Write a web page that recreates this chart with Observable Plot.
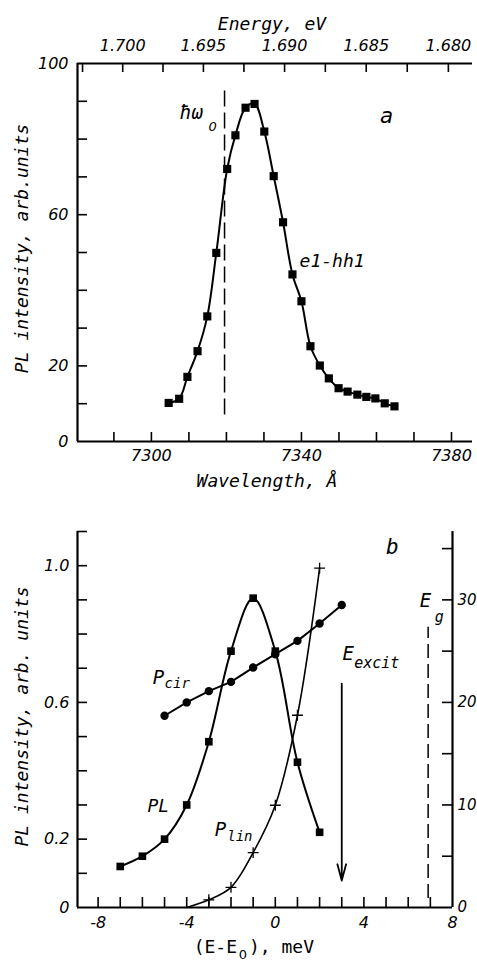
<!DOCTYPE html>
<html><head><meta charset="utf-8">
<script src="https://cdn.jsdelivr.net/npm/d3@7"></script>
<script src="https://cdn.jsdelivr.net/npm/@observablehq/plot@0.6"></script>
<style>
body{margin:0;background:#fff;}
#chart svg{display:block;}
</style></head><body><div id="chart"></div>
<script>
// ---------- Panel a data ----------
const wavelength = [7304.6,7307.4,7309.6,7312.3,7314.9,7317.3,7320.2,7322.4,7325.1,7327.5,7330.1,7332.6,7335.1,7337.6,7340.0,7342.4,7344.9,7347.3,7349.9,7352.3,7354.9,7357.3,7359.7,7362.2,7364.8];
const intensityA = [10.2,11.3,17.1,23.9,33.1,49.9,72.1,81.0,88.3,89.3,82.0,70.2,58.0,44.2,37.1,25.2,20.1,16.7,14.1,13.2,12.4,11.8,11.4,10.1,9.3];
const wavelengthTicks = [7290,7300,7310,7320,7330,7340,7350,7360,7370,7380];
const wavelengthLabels = [7300,7340,7380];
const intensityTicksA = [10,20,30,40,50,60,70,80,90];
const intensityLabelsA = [0,20,60,100];
const energyTicks = [1.7025,1.700,1.6975,1.695,1.6925,1.690,1.6875,1.685,1.6825,1.680];
const energyLabels = [1.700,1.695,1.690,1.685,1.680];
const hbarOmega0 = 7319.5;          // dashed line position, Å
const hbarOmegaSpan = [7, 94];

// ---------- Panel b data ----------
const dE_PL = [-7,-6,-5,-4,-3,-2,-1,0,1,2];
const plB   = [0.12,0.15,0.20,0.30,0.485,0.75,0.905,0.75,0.425,0.22];
const dE_cir = [-5,-4,-3,-2,-1,0,1,2,3];
const pCir   = [18.7,20.0,21.1,22.0,23.4,24.7,26.0,27.7,29.5];   // %
const dE_lin = [-3,-2,-1,0,1,2];
const pLin   = [0.75,1.97,5.35,9.97,18.75,33.1];                // %
const linCurveStart = {dE: -4, p: 0};
const xTicksB = [-8,-7,-6,-5,-4,-3,-2,-1,0,1,2,3,4,5,6,7];
const xLabelsB = [-8,-4,0,4,8];
const yTicksB = [0.1,0.2,0.3,0.4,0.5,0.6,0.7,0.8,0.9,1.0,1.1];
const yLabelsB = [0,0.2,0.6,1.0];
const rightTicksB = [5,10,15,20,25,30,35];
const rightLabelsB = [0,10,20,30];
const excitArrow = {dE: 3, top: 0.655, bottom: 0.079};
const egLine = {dE: 6.9, y1: 0.026, y2: 0.82};

// ---------- constants ----------
const HC = 12397;           // eV·Å
const K = 100 / 3;          // % per left-axis unit
const FONT = "'DejaVu Sans Mono', 'Liberation Mono', monospace";
const NUMFONT = "'DejaVu Sans', sans-serif";

const panelA = wavelength.map((w, i) => ({w, I: intensityA[i]}));
const plData = dE_PL.map((d, i) => ({d, v: plB[i]}));
const cirData = dE_cir.map((d, i) => ({d, v: pCir[i] / K}));
const linData = dE_lin.map((d, i) => ({d, v: pLin[i] / K}));
const linCurve = [{d: linCurveStart.dE, v: linCurveStart.p / K}, ...linData];

const txt = (s, x, y, o = {}) => Plot.text([s], {x: () => x, y: () => y, text: d => d, ...o});

// Panel a geometry
const A = {w: 477, h: 505, ml: 77, mr: 5, mt: 63, mb: 64};
const AFW = A.w - A.ml - A.mr, AFH = A.h - A.mt - A.mb;
const xDomA = [7280.3, 7385.6];

const plotA = Plot.plot({
  width: A.w, height: A.h,
  marginLeft: A.ml, marginRight: A.mr, marginTop: A.mt, marginBottom: A.mb,
  x: {domain: xDomA}, y: {domain: [0, 100]},
  style: {fontFamily: FONT, fontSize: "17px", fontStyle: "italic", background: "white", overflow: "visible"},
  marks: [
    Plot.ruleX([xDomA[0]], {strokeWidth: 2.2}),
    Plot.ruleY([0], {strokeWidth: 2.2}),
    Plot.ruleY([100], {strokeWidth: 2.2}),
    Plot.tickX(wavelengthTicks, {x: d => d, insetTop: AFH - 9, strokeWidth: 1.6}),
    Plot.tickX(energyTicks, {x: e => HC / e, insetBottom: AFH - 9, strokeWidth: 1.6}),
    Plot.tickY(intensityTicksA, {y: d => d, insetRight: AFW - 10, strokeWidth: 1.6}),
    Plot.axisX({ticks: wavelengthLabels, anchor: "bottom", tickSize: 0, tickPadding: 8, tickFormat: d => String(d), label: null, fontFamily: NUMFONT, fontSize: 16}),
    Plot.axisX({ticks: energyLabels.map(e => HC / e), anchor: "top", tickSize: 0, tickPadding: 13, tickFormat: x => (HC / x).toFixed(3), label: null, fontFamily: NUMFONT, fontSize: 16}),
    Plot.axisY({ticks: intensityLabelsA, anchor: "left", tickSize: 0, tickPadding: 9, tickFormat: d => String(d), label: null, fontFamily: NUMFONT, fontSize: 16}),
    Plot.text(["Energy, eV"], {frameAnchor: "top", textAnchor: "middle", dy: -46, dx: -3, fontSize: 18}),
    Plot.text(["Wavelength, Å"], {frameAnchor: "bottom", textAnchor: "middle", dy: 45, dx: -8, fontSize: 18}),
    Plot.text(["PL intensity, arb.units"], {frameAnchor: "left", textAnchor: "middle", dx: -55, dy: -4, rotate: -90, fontSize: 18}),
    Plot.ruleX([hbarOmega0], {y1: hbarOmegaSpan[0], y2: hbarOmegaSpan[1], strokeDasharray: "16,6", strokeWidth: 1.5}),
    Plot.line(panelA, {x: "w", y: "I", curve: "catmull-rom", strokeWidth: 2}),
    Plot.dot(panelA, {x: "w", y: "I", symbol: "square", r: 4.6, fill: "black", stroke: "none"}),
    txt("ħω", 7310.7, 87.0, {fontSize: 19}),
    txt("0", 7316.3, 83.2, {fontSize: 13, fontFamily: NUMFONT}),
    txt("a", 7362.7, 86.2, {fontSize: 22}),
    txt("e1-hh1", 7339.5, 47.6, {textAnchor: "start", fontSize: 18})
  ]
});

// Panel b geometry
const B = {w: 477, h: 461, ml: 77, mr: 25, mt: 26, mb: 59};
const BFW = B.w - B.ml - B.mr, BFH = B.h - B.mt - B.mb;
const xDomB = [-8.93, 8];

const plotB = Plot.plot({
  width: B.w, height: B.h,
  marginLeft: B.ml, marginRight: B.mr, marginTop: B.mt, marginBottom: B.mb,
  x: {domain: xDomB}, y: {domain: [0, 1.1]},
  style: {fontFamily: FONT, fontSize: "17px", fontStyle: "italic", background: "white", overflow: "visible"},
  marks: [
    Plot.ruleX([xDomB[0]], {strokeWidth: 2.2}),
    Plot.ruleX([xDomB[1]], {strokeWidth: 2.2}),
    Plot.ruleY([0], {strokeWidth: 2.2}),
    Plot.tickX(xTicksB, {x: d => d, insetTop: BFH - 10, strokeWidth: 1.6}),
    Plot.tickY(yTicksB, {y: d => d, insetRight: BFW - 10, strokeWidth: 1.6}),
    Plot.tickY(rightTicksB, {y: d => d / K, insetLeft: BFW - 10, strokeWidth: 1.6}),
    Plot.axisX({ticks: xLabelsB, anchor: "bottom", tickSize: 0, tickPadding: 9, tickFormat: d => String(d), label: null, fontFamily: NUMFONT, fontSize: 16}),
    Plot.axisY({ticks: yLabelsB, anchor: "left", tickSize: 0, tickPadding: 8, tickFormat: d => d === 0 ? "0" : d.toFixed(1), label: null, fontFamily: NUMFONT, fontSize: 16}),
    Plot.axisY({ticks: rightLabelsB.map(p => p / K), anchor: "right", tickSize: 0, tickPadding: 5, tickFormat: y => String(Math.round(y * K)), label: null, fontFamily: NUMFONT, fontSize: 15}),
    Plot.text(["(E-E"], {frameAnchor: "bottom", dy: 45, dx: -28, textAnchor: "end", fontSize: 18, fontStyle: "normal"}),
    Plot.text(["0"], {frameAnchor: "bottom", dy: 51, dx: -22, textAnchor: "middle", fontSize: 13, fontStyle: "normal", fontFamily: NUMFONT}),
    Plot.text(["), meV"], {frameAnchor: "bottom", dy: 45, dx: -16, textAnchor: "start", fontSize: 18, fontStyle: "normal"}),
    Plot.text(["PL intensity, arb. units"], {frameAnchor: "left", textAnchor: "middle", dx: -55, dy: -3, rotate: -90, fontSize: 18}),
    Plot.ruleX([egLine], {x: "dE", y1: "y1", y2: "y2", strokeDasharray: "14,6", strokeWidth: 1.5}),
    Plot.arrow([excitArrow], {x1: "dE", x2: "dE", y1: "top", y2: "bottom", strokeWidth: 1.8, headLength: 14, headAngle: 30}),
    Plot.line(plData, {x: "d", y: "v", curve: "catmull-rom", strokeWidth: 2}),
    Plot.line(cirData, {x: "d", y: "v", strokeWidth: 2}),
    Plot.line(linCurve, {x: "d", y: "v", curve: "catmull-rom", strokeWidth: 1.6}),
    Plot.dot(plData, {x: "d", y: "v", symbol: "square", r: 4.3, fill: "black", stroke: "none"}),
    Plot.dot(cirData, {x: "d", y: "v", symbol: "circle", r: 4.2, fill: "black", stroke: "none"}),
    Plot.dot(linData, {x: "d", y: "v", symbol: "plus", r: 3.6, stroke: "black", strokeWidth: 1.3}),
    txt("b", 5.28, 1.053, {fontSize: 21}),
    txt("E", 6.78, 0.898, {fontSize: 19}),
    txt("g", 7.2, 0.85, {textAnchor: "start", fontSize: 15}),
    txt("E", 3.29, 0.743, {fontSize: 19}),
    txt("excit", 3.56, 0.716, {textAnchor: "start", fontSize: 15}),
    txt("P", -5.28, 0.672, {fontSize: 19}),
    txt("cir", -5.0, 0.655, {textAnchor: "start", fontSize: 14}),
    txt("PL", -5.28, 0.295, {fontSize: 18}),
    txt("P", -2.48, 0.228, {fontSize: 19}),
    txt("lin", -2.17, 0.208, {textAnchor: "start", fontSize: 14})
  ]
});

document.getElementById("chart").append(plotA, plotB);
</script></body></html>
